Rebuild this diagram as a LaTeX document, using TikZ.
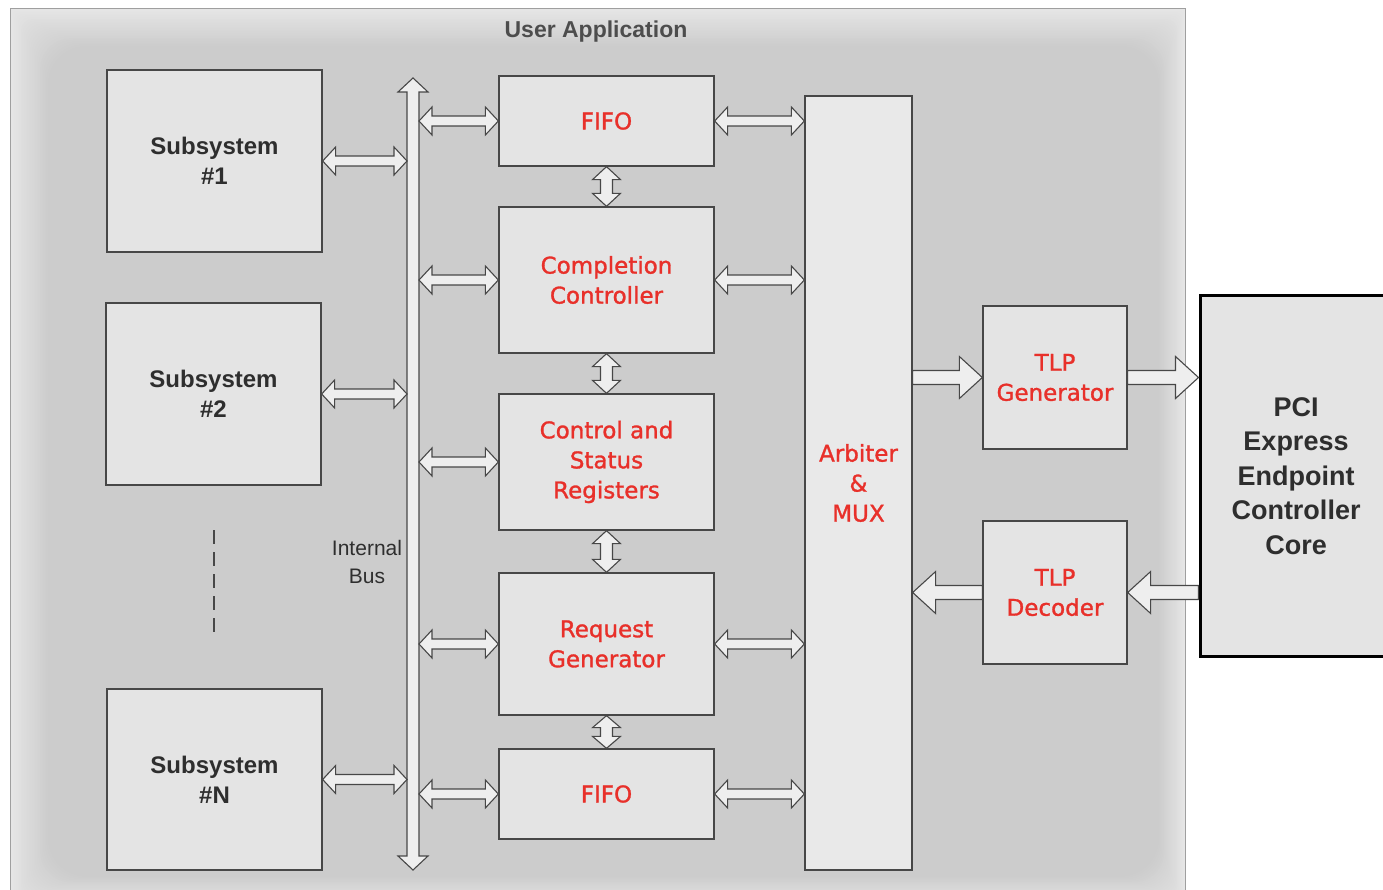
\documentclass[tikz,border=0pt]{standalone}
\usepackage{fontspec}
\setmainfont{Liberation Sans}
\newfontfamily\dvfont[FakeBold=1.3]{DejaVu Sans}
\usetikzlibrary{calc}
\definecolor{bgdark}{HTML}{CBCBCB}
\definecolor{bglight}{HTML}{E6E6E6}
\definecolor{boxfill}{HTML}{E4E4E4}
\definecolor{edge}{HTML}{474747}
\definecolor{lbl}{HTML}{E8302A}
\definecolor{txt}{HTML}{2E2E2E}
\definecolor{arrfill}{HTML}{EEEEEE}
\tikzset{
  blk/.style={draw=edge, line width=1.3pt, fill=boxfill, inner sep=0pt, align=center},
  redlbl/.style={text=lbl, font=\dvfont\fontsize{23}{30}\selectfont},
  blklbl/.style={text=txt, font=\bfseries\fontsize{24}{30}\selectfont},
  pcilbl/.style={text=txt, font=\bfseries\fontsize{27}{34.5}\selectfont},
  fat/.style={draw=edge, line width=1.1pt, fill=arrfill, line join=miter},
}
% horizontal double fat arrow, #1 left end, #2 right end
\newcommand\hdfat[2]{\draw[fat] let \p1=(#1), \p2=(#2) in
  (\x1,\y1) -- (\x1+13pt,\y1+14pt) -- (\x1+13pt,\y1+5pt) -- (\x2-13pt,\y1+5pt) -- (\x2-13pt,\y1+14pt)
  -- (\x2,\y1) -- (\x2-13pt,\y1-14pt) -- (\x2-13pt,\y1-5pt) -- (\x1+13pt,\y1-5pt) -- (\x1+13pt,\y1-14pt) -- cycle;}
% vertical double fat arrow, #1 top, #2 bottom, #3 shaft half, #4 head half, #5 head length
\newcommand\vdfat[5]{\draw[fat] let \p1=(#1), \p2=(#2) in
  (\x1,\y1) -- (\x1+#4,\y1-#5) -- (\x1+#3,\y1-#5) -- (\x1+#3,\y2+#5) -- (\x1+#4,\y2+#5)
  -- (\x1,\y2) -- (\x1-#4,\y2+#5) -- (\x1-#3,\y2+#5) -- (\x1-#3,\y1-#5) -- (\x1-#4,\y1-#5) -- cycle;}
% single fat arrow to the right, #1 tail, #2 tip
\newcommand\rsfat[2]{\draw[fat] let \p1=(#1), \p2=(#2) in
  (\x1,\y1+7pt) -- (\x2-23pt,\y1+7pt) -- (\x2-23pt,\y1+21pt) -- (\x2,\y1) -- (\x2-23pt,\y1-21pt) -- (\x2-23pt,\y1-7pt) -- (\x1,\y1-7pt) -- cycle;}
% single fat arrow to the left, #1 tail, #2 tip
\newcommand\lsfat[2]{\draw[fat] let \p1=(#1), \p2=(#2) in
  (\x1,\y1+7pt) -- (\x2+23pt,\y1+7pt) -- (\x2+23pt,\y1+21pt) -- (\x2,\y1) -- (\x2+23pt,\y1-21pt) -- (\x2+23pt,\y1-7pt) -- (\x1,\y1-7pt) -- cycle;}
\begin{document}
\begin{tikzpicture}[x=1pt,y=-1pt]
\useasboundingbox (0,0) rectangle (1383,890);
\fill[white] (0,0) rectangle (1383,890);
% User application background with soft edges
\foreach \i in {0,...,24}{
  \pgfmathtruncatemacro\pc{100-4*\i}
  \pgfmathsetmacro\rr{1.6*\i}
  \fill[bglight!\pc!bgdark, rounded corners=\rr pt] (10+1.6*\i, 8+1.6*\i) rectangle (1185-1.1*\i, 905-1.2*\i);
}
\draw[gray!75, line width=0.9pt] (10,905) -- (10,8) -- (1185,8) -- (1185,905);
\node[text=txt!85!white, font=\bfseries\fontsize{23}{26}\selectfont] (title) at (596,32) {User Application};

% subsystems
\node[blk, blklbl, minimum width=215pt, minimum height=182pt] (s1) at (214.5,161) {Subsystem\\\#1};
\node[blk, blklbl, minimum width=215pt, minimum height=182pt] (s2) at (213.5,394) {Subsystem\\\#2};
\node[blk, blklbl, minimum width=215pt, minimum height=181pt] (sN) at (214.5,779.5) {Subsystem\\\#N};
\coordinate (dashT) at (214,530);
\coordinate (dashB) at (214,636);
\draw[edge, line width=1.2pt, dash pattern=on 14pt off 8pt] (dashT) -- (dashB);

% internal bus
\coordinate (busT) at (413,78);
\coordinate (busB) at (413,870);
\coordinate (busL) at (407,0);
\coordinate (busR) at (419,0);
\vdfat{busT}{busB}{6pt}{15pt}{14pt}
\node[text=txt, font=\fontsize{21}{28}\selectfont, align=center] (buslbl) at (367,562) {Internal\\Bus};

% middle column
\node[blk, redlbl, minimum width=215pt, minimum height=90pt] (f1) at (606.5,121) {FIFO};
\node[blk, redlbl, minimum width=215pt, minimum height=146pt] (cc) at (606.5,280) {Completion\\Controller};
\node[blk, redlbl, minimum width=215pt, minimum height=136pt] (csr) at (606.5,462) {Control and\\Status\\Registers};
\node[blk, redlbl, minimum width=215pt, minimum height=142pt] (rg) at (606.5,644) {Request\\Generator};
\node[blk, redlbl, minimum width=215pt, minimum height=90pt] (f2) at (606.5,794) {FIFO};

% arbiter, TLP blocks, PCIe core
\node[blk, redlbl, fill=boxfill!80!white, minimum width=107pt, minimum height=774pt] (arb) at (858.5,483) {Arbiter\\\&\\MUX};
\node[blk, redlbl, minimum width=144pt, minimum height=143pt] (tg) at (1055,377.5) {TLP\\Generator};
\node[blk, redlbl, minimum width=144pt, minimum height=143pt] (td) at (1055,592.5) {TLP\\Decoder};
\node[blk, pcilbl, draw=black, line width=3pt, minimum width=192pt, minimum height=360pt] (pci) at (1296,476) {PCI\\Express\\Endpoint\\Controller\\Core};

% subsystem <-> bus
\hdfat{s1.east}{s1.east -| busL}
\hdfat{s2.east}{s2.east -| busL}
\hdfat{sN.east}{sN.east -| busL}
% bus <-> middle blocks
\hdfat{f1.west -| busR}{f1.west}
\hdfat{cc.west -| busR}{cc.west}
\hdfat{csr.west -| busR}{csr.west}
\hdfat{rg.west -| busR}{rg.west}
\hdfat{f2.west -| busR}{f2.west}
% middle blocks <-> arbiter
\hdfat{f1.east}{f1.east -| arb.west}
\hdfat{cc.east}{cc.east -| arb.west}
\hdfat{rg.east}{rg.east -| arb.west}
\hdfat{f2.east}{f2.east -| arb.west}
% between stacked blocks
\vdfat{f1.south}{cc.north}{6pt}{14pt}{13pt}
\vdfat{cc.south}{csr.north}{6pt}{14pt}{13pt}
\vdfat{csr.south}{rg.north}{6pt}{14pt}{13pt}
\vdfat{rg.south}{f2.north}{6pt}{14pt}{12pt}
% TLP paths
\rsfat{tg.west -| arb.east}{tg.west}
\rsfat{tg.east}{tg.east -| pci.west}
\lsfat{td.east -| pci.west}{td.east}
\lsfat{td.west}{td.west -| arb.east}
\end{tikzpicture}
\end{document}
